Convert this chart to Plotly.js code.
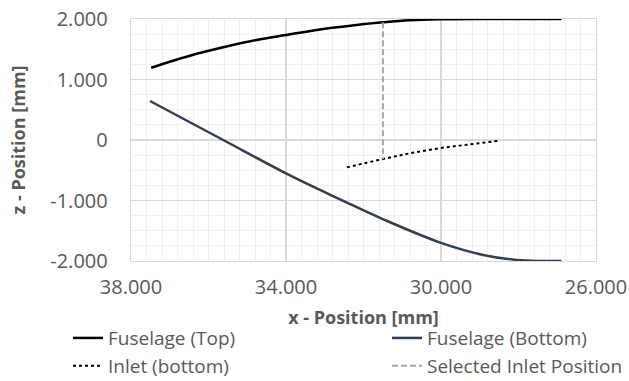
<!DOCTYPE html>
<html>
<head>
<meta charset="utf-8">
<script src="https://cdn.plot.ly/plotly-3.0.1.min.js"></script>
<style>html,body{margin:0;padding:0;background:#fff;}#chart{width:629px;height:381px;}</style>
</head>
<body>
<div id="chart"></div>
<script>
// Fuselage top contour (x in mm, z in mm)
const topX = [37.48, 36.48, 35.62, 34.76, 34.0, 33.04, 32.18, 31.5, 30.8, 30.0, 29.0, 28.0, 26.89];
const topZ = [1.195, 1.393, 1.532, 1.653, 1.735, 1.835, 1.90, 1.945, 1.98, 1.995, 2.0, 2.0, 2.0];
// Fuselage bottom contour
const bottomX = [37.51, 35.62, 34.0, 33.12, 32.48, 31.49, 30.0, 28.91, 28.05, 27.4, 26.89];
const bottomZ = [0.645, 0.0, -0.551, -0.826, -1.02, -1.311, -1.70, -1.90, -1.983, -2.0, -2.0];
// Inlet bottom line
const inletX = [32.43, 31.53, 30.8, 30.03, 29.25, 28.48];
const inletZ = [-0.452, -0.319, -0.22, -0.135, -0.072, -0.011];
// Selected inlet position
const selX = [31.5, 31.5];
const selZ = [1.945, -0.32];
// Ticks
const xTickVals = [38, 34, 30, 26];
const xTickText = ['38.000', '34.000', '30.000', '26.000'];
const yTickVals = [2, 1, 0, -1, -2];
const yTickText = ['2.000', '1.000', '0', '-1.000', '-2.000'];

const FONT = 'Open Sans, sans-serif';
const traces = [
  {x: topX, y: topZ, name: 'Fuselage (Top)', mode: 'lines', line: {color: '#000000', width: 2.5, shape: 'spline', smoothing: 1}, legend: 'legend'},
  {x: bottomX, y: bottomZ, name: 'Fuselage (Bottom)', mode: 'lines', line: {color: '#333F50', width: 2.5, shape: 'spline', smoothing: 1}, legend: 'legend2'},
  {x: inletX, y: inletZ, name: 'Inlet (bottom)', mode: 'lines', line: {color: '#000000', width: 2, dash: 'dot', shape: 'spline', smoothing: 1}, legend: 'legend'},
  {x: selX, y: selZ, name: 'Selected Inlet Position', mode: 'lines', line: {color: '#A5A5A5', width: 2, dash: '6px,3px'}, legend: 'legend2'}
];

const legendCommon = {orientation: 'v', yanchor: 'top', xanchor: 'left', y: -0.24,
  font: {family: FONT, size: 19, color: '#595959'}, bgcolor: 'rgba(0,0,0,0)', borderwidth: 0, tracegroupgap: 0};

const layout = {
  width: 629, height: 381,
  margin: {l: 131, r: 33, t: 19, b: 120, autoexpand: false},
  paper_bgcolor: '#ffffff', plot_bgcolor: '#ffffff',
  font: {family: FONT, color: '#595959'},
  showlegend: true,
  legend: Object.assign({}, legendCommon, {x: -0.1355}),
  legend2: Object.assign({}, legendCommon, {x: 0.5505}),
  xaxis: {
    range: [38, 26], tickmode: 'array', tickvals: xTickVals, ticktext: xTickText,
    showgrid: true, gridcolor: '#D9D9D9', gridwidth: 1.3,
    minor: {tick0: 26, dtick: 0.4, showgrid: true, gridcolor: '#F0F0F0', gridwidth: 1},
    showline: true, linecolor: '#D9D9D9', linewidth: 1.3, mirror: true,
    zeroline: false, ticks: '', ticklabelstandoff: 8,
    tickfont: {family: FONT, size: 20, color: '#595959'},
    title: {text: '<b>x - Position [mm]</b>', font: {family: FONT, size: 18, color: '#595959'}, standoff: 12},
    automargin: false
  },
  yaxis: {
    range: [-2, 2], tickmode: 'array', tickvals: yTickVals, ticktext: yTickText,
    showgrid: true, gridcolor: '#D9D9D9', gridwidth: 1.3,
    minor: {tick0: -2, dtick: 0.25, showgrid: true, gridcolor: '#F0F0F0', gridwidth: 1},
    showline: true, linecolor: '#D9D9D9', linewidth: 1.3, mirror: true,
    zeroline: false, ticks: '', ticklabelstandoff: 18,
    tickfont: {family: FONT, size: 20, color: '#595959'},
    title: {text: '<b>z - Position [mm]</b>', font: {family: FONT, size: 18, color: '#595959'}, standoff: 20},
    automargin: false
  }
};

Plotly.newPlot('chart', traces, layout, {displayModeBar: false, staticPlot: true});
</script>
</body>
</html>
